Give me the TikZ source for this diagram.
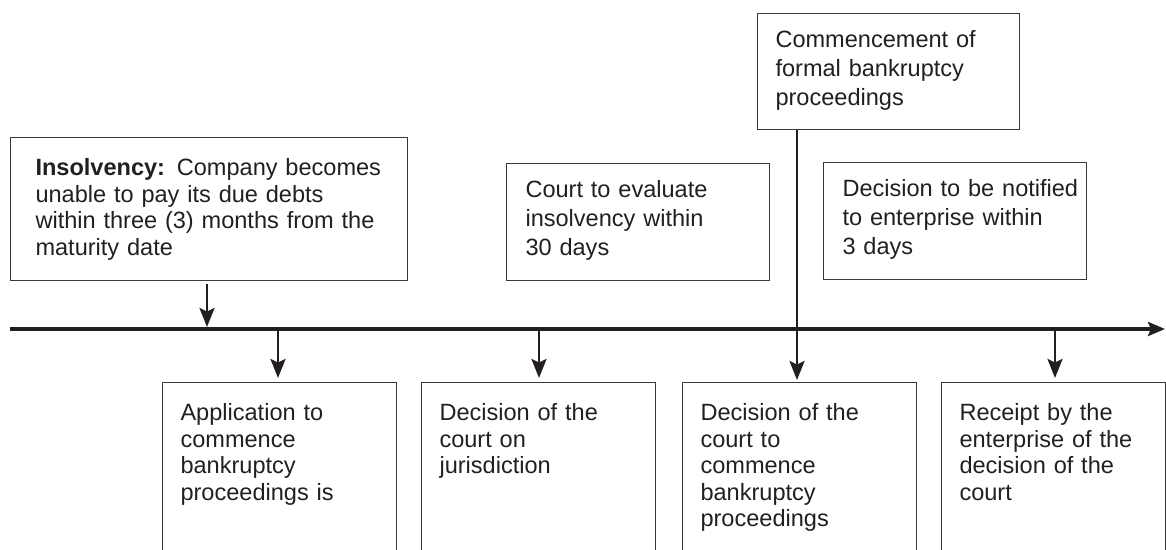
\documentclass[tikz,border=0pt]{standalone}
\usepackage{fontspec}
\setmainfont{Liberation Sans}
\usetikzlibrary{arrows.meta}
\definecolor{inkgray}{HTML}{231F20}
\definecolor{framegray}{HTML}{3A3A3A}

\begin{document}
\begin{tikzpicture}[
    box/.style={draw=framegray,line width=0.6pt,rectangle,anchor=north west,align=left,
      text=inkgray,inner xsep=0.36cm,inner ysep=0.42cm,text height=0.34cm,
      font=\fontsize{13.4}{15.1}\selectfont},
    upper/.style={box,inner ysep=0.34cm,text depth=1.32cm,font=\fontsize{13.4}{16.5}\selectfont},
    lower/.style={box,text width=3.96cm,text depth=3cm},
    arr/.style={draw=inkgray,line width=1.4pt,-{Stealth[length=0.38cm,width=0.3cm,inset=0.07cm]}},
    timeline/.style={draw=inkgray,line width=1.9pt,-{Stealth[length=0.34cm,width=0.28cm,inset=0.06cm]}}]

  \useasboundingbox (0,0) rectangle (23.32,11);
  \clip (0,0) rectangle (23.32,11);

  \coordinate (tl0) at (0.2,4.42);
  \coordinate (tl1) at (23.30,4.42);
  \coordinate (t0) at (4.14,4.42);
  \coordinate (t1) at (5.56,4.42);
  \coordinate (t2) at (10.78,4.42);
  \coordinate (t3) at (15.94,4.42);
  \coordinate (t4) at (21.10,4.42);

  \node [box,text width=6.94cm,inner xsep=0.5cm,text depth=1.68cm] (insolv) at (0.2,8.26)
    {\textbf{Insolvency:} Company becomes\\unable to pay its due debts\\within three (3) months from the\\maturity date};
  \node [upper,text width=4.5cm,inner xsep=0.38cm] (evaluate) at (10.12,7.74)
    {Court to evaluate\\insolvency within\\30 days};
  \node [upper,text width=4.52cm,text depth=1.30cm] (commence) at (15.14,10.74)
    {Commencement of\\formal bankruptcy\\proceedings};
  \node [upper,text width=4.5cm,inner xsep=0.38cm] (notify) at (16.46,7.76)
    {\makebox[4.5cm][l]{Decision to be notified}\\to enterprise within\\3 days};

  \node [lower] (apply) at (3.24,3.36)
    {Application to\\commence\\bankruptcy\\proceedings is};
  \node [lower] (juris) at (8.42,3.36)
    {Decision of the\\court on\\jurisdiction};
  \node [lower] (decide) at (13.64,3.36)
    {Decision of the\\court to\\commence\\bankruptcy\\proceedings};
  \node [lower,text width=3.76cm] (receipt) at (18.82,3.36)
    {Receipt by the\\enterprise of the\\decision of the\\court};

  \path [timeline] (tl0) -- (tl1);

  \path [arr,shorten <=0.06cm,shorten >=0.04cm] (insolv.south -| t0) -- (t0);
  \path [arr,shorten >=0.08cm] (t1) -- (t1 |- apply.north);
  \path [arr,shorten >=0.08cm] (t2) -- (t2 |- juris.north);
  \path [arr,shorten >=0.04cm] (commence.south -| t3) -- (t3 |- decide.north);
  \path [arr,shorten >=0.08cm] (t4) -- (t4 |- receipt.north);

\end{tikzpicture}
\end{document}
